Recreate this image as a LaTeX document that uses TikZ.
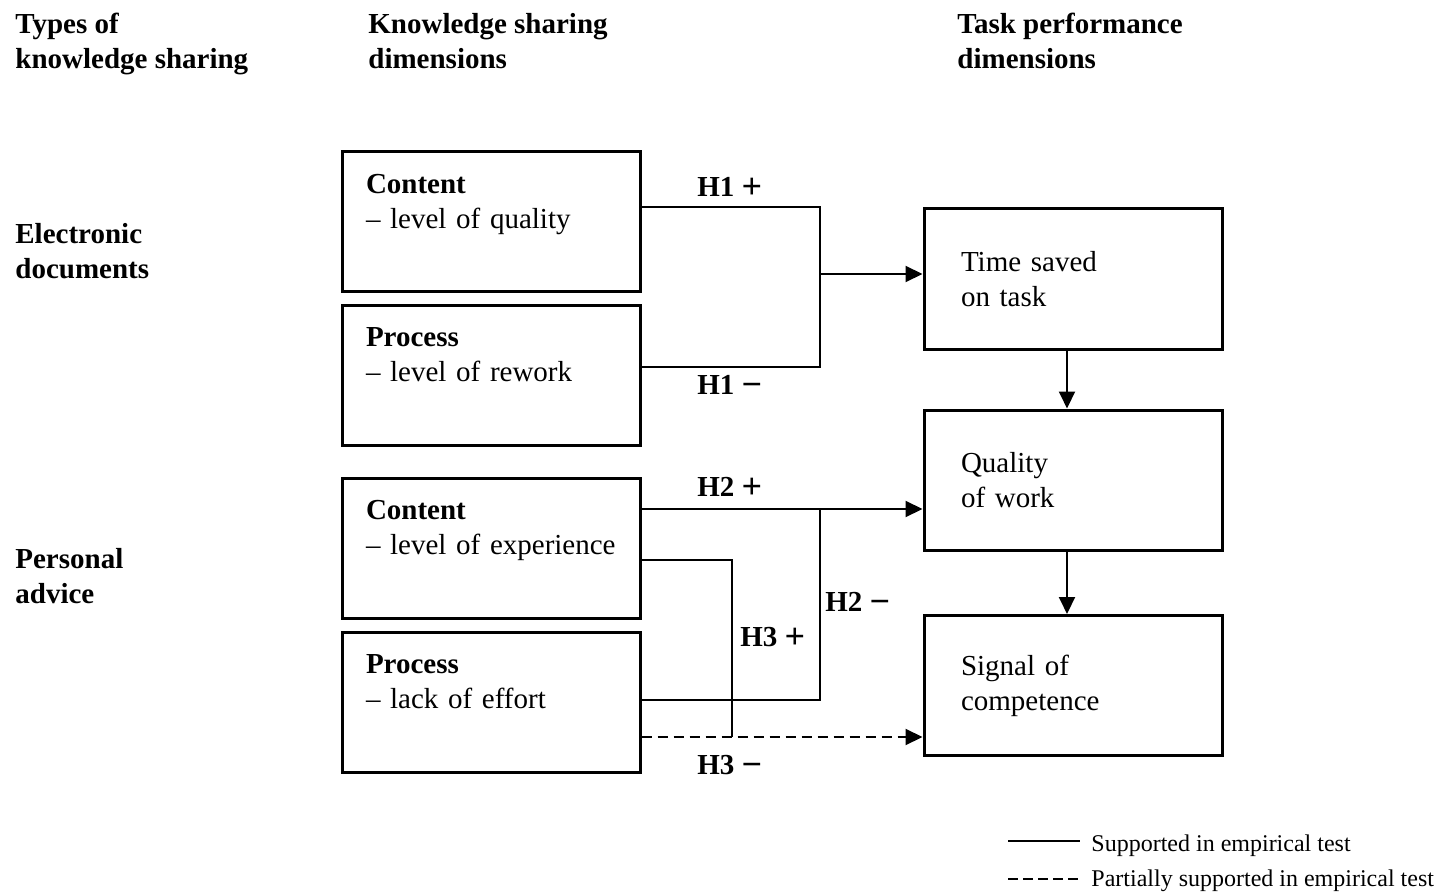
\documentclass[tikz,border=0pt]{standalone}
\usepackage{fontspec}
\setmainfont{Liberation Serif}
\usetikzlibrary{arrows.meta}
\newcommand{\hsign}[1]{{\fontsize{18}{18}\selectfont\raisebox{-1pt}{#1}}}
\begin{document}
\begin{tikzpicture}[x=0.5pt,y=-0.5pt,
    font=\fontsize{14.5}{17.5}\selectfont,
    dimbox/.style={draw,line width=1.5pt,minimum width=149pt,minimum height=70pt,
      inner xsep=12pt,text width=125pt,align=left},
    taskbox/.style={draw,line width=1.5pt,minimum width=149pt,minimum height=70pt,
      inner xsep=18.5pt,text width=112pt,align=left},
    head/.style={font=\fontsize{14.5}{17.5}\selectfont\bfseries,align=left,inner sep=0pt,anchor=west},
    hyp/.style={font=\fontsize{14.5}{17.5}\selectfont\bfseries,inner sep=0pt,anchor=west},
    link/.style={line width=1pt},
    arr/.style={line width=1pt,-{Triangle[length=8.5pt,width=8pt]}},
    legtext/.style={font=\fontsize{12}{14}\selectfont,inner sep=0pt,anchor=west}]
  \useasboundingbox (0,0) rectangle (1439,893);
  % column and row headings
  \node[head] (types) at (15,44) {Types of\\knowledge sharing};
  \node[head] (ksdim) at (368,41) {Knowledge sharing\\dimensions};
  \node[head] (tpdim) at (957,41) {Task performance\\dimensions};
  \node[head] (edoc) at (15,251) {Electronic\\documents};
  \node[head] (padv) at (15,576) {Personal\\advice};
  % knowledge sharing boxes
  \node[dimbox] (c1) at (491,221.5) {\textbf{Content}\\– level of quality\\[3pt]\mbox{}};
  \node[dimbox] (p1) at (491,375) {\textbf{Process}\\– level of rework\\[3pt]\mbox{}};
  \node[dimbox] (c2) at (491,548) {\textbf{Content}\\– level of experience\\[3pt]\mbox{}};
  \node[dimbox] (p2) at (491,702) {\textbf{Process}\\– lack of effort\\[3pt]\mbox{}};
  % task performance boxes
  \node[taskbox] (ts) at (1073,279) {Time saved\\on task};
  \node[taskbox] (qw) at (1073,480) {Quality\\of work};
  \node[taskbox] (sc) at (1073,685.5) {Signal of\\competence};
  % junctions
  \coordinate (h1top) at (820,207);
  \coordinate (h1bot) at (820,367);
  \coordinate (h1mid) at (820,274);
  \coordinate (h2top) at (820,509);
  \coordinate (h2bot) at (820,700);
  \coordinate (h3top) at (732,560);
  \coordinate (h3bot) at (732,737);
  % H1
  \draw[link] (c1.east |- h1top) -- (h1top) -- (h1bot) -- (p1.east |- h1bot);
  \draw[arr] (h1mid) -- (ts.west |- h1mid);
  % H2
  \draw[arr] (c2.east |- h2top) -- (qw.west |- h2top);
  \draw[link] (h2top) -- (h2bot) -- (p2.east |- h2bot);
  % H3
  \draw[link] (c2.east |- h3top) -- (h3top) -- (h3bot);
  \draw[arr,dash pattern=on 5pt off 3pt] (p2.east |- h3bot) -- (sc.west |- h3bot);
  % task chain
  \draw[arr] ([xshift=-3pt]ts.south) -- ([xshift=-3pt]qw.north);
  \draw[arr] ([xshift=-3pt]qw.south) -- ([xshift=-3pt]sc.north);
  % hypothesis labels
  \node[hyp] (l1p) at (697,188) {H1 \hsign{+}};
  \node[hyp] (l1m) at (697,386) {H1 \hsign{−}};
  \node[hyp] (l2p) at (697,488) {H2 \hsign{+}};
  \node[hyp] (l2m) at (825,603) {H2 \hsign{−}};
  \node[hyp] (l3p) at (740,638) {H3 \hsign{+}};
  \node[hyp] (l3m) at (697,766) {H3 \hsign{−}};
  % legend
  \coordinate (lg1a) at (1008,841);
  \coordinate (lg1b) at (1080,841);
  \coordinate (lg2a) at (1008,879);
  \coordinate (lg2b) at (1080,879);
  \draw[link] (lg1a) -- (lg1b);
  \draw[link,dash pattern=on 5pt off 2.5pt] (lg2a) -- (lg2b);
  \node[legtext] (sup) at (1091,846) {Supported in empirical test};
  \node[legtext] (psup) at (1091,881) {Partially supported in empirical test};
\end{tikzpicture}
\end{document}
